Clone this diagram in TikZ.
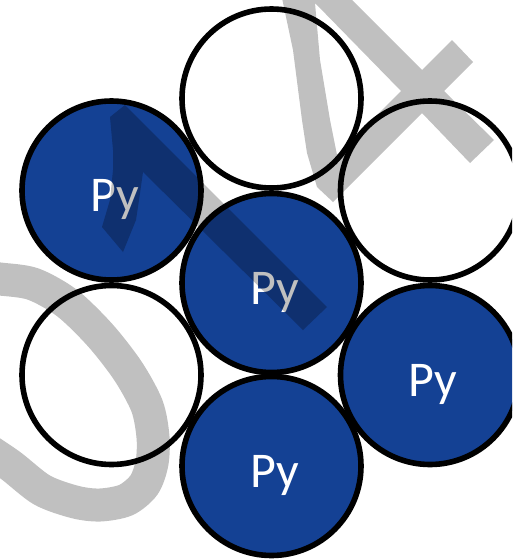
\documentclass[tikz,border=0pt]{standalone}
\usepackage{fontspec}
\setmainfont{Carlito}
\usetikzlibrary{calc}
\definecolor{pyblue}{RGB}{20,65,148}
\definecolor{markgray}{RGB}{192,192,192}
\begin{document}
\begin{tikzpicture}[x=1pt,y=-1pt,
  ball/.style={circle,draw=black,line width=5.6pt,minimum size=179pt,inner sep=0pt},
  pyball/.style={ball,fill=pyblue},
  emptyball/.style={ball,fill=white},
  pylabel/.style={anchor=base,text=white,inner sep=0pt,font=\fontsize{50}{50}\selectfont},
  wmark/.style={fill=markgray,blend mode=multiply},
  wstroke/.style={draw=markgray,line width=33pt,blend mode=multiply}]
\useasboundingbox (0,0) rectangle (512,560);
\clip (0,0) rectangle (512,560);

% hexagonal packing of seven spheres
\node[emptyball] (top) at (271.5,98.5) {};
\node[pyball]    (tl)  at (111.5,190.5) {};
\node[emptyball] (tr)  at (430,190.5) {};
\node[pyball]    (mid) at (271.5,283) {};
\node[emptyball] (bl)  at (111.5,375) {};
\node[pyball]    (br)  at (430,375) {};
\node[pyball]    (bot) at (271.5,466) {};

\node[pylabel] (tl-py)  at ($(tl)+(3,21)$)  {Py};
\node[pylabel] (mid-py) at ($(mid)+(3,21)$) {Py};
\node[pylabel] (br-py)  at ($(br)+(3,21)$)  {Py};
\node[pylabel] (bot-py) at ($(bot)+(3,21)$) {Py};

% grey watermark strokes on top
\fill[wmark] (110,117) -- (125,105) -- (327,307) -- (303,330) -- (143,172)
  -- (139,200) -- (136,220) -- (123,252) -- (102,227) -- (110,200)
  -- (113,170) -- (113,150) -- cycle;
\fill[wmark,even odd rule]
  (282,-2) -- (350,-2) -- (422,70) -- (452,40) -- (473,62) -- (444,91)
  -- (494,140) -- (470,163) -- (422,113) -- (333,202) -- (317,187)
  -- (307,153) -- (302,120) -- (293,50) -- cycle
  (315,3) -- (320,60) -- (330,120) -- (337,155) -- (401,91) -- cycle;
\draw[wstroke] plot[smooth] coordinates {(-20,277) (0,279) (33,284) (67,303)
  (100,335) (128,371) (147,406) (153,437) (152,463) (144,485) (126,500)
  (100,505) (75,502) (42,490) (10,465) (-20,445)};
\end{tikzpicture}
\end{document}
